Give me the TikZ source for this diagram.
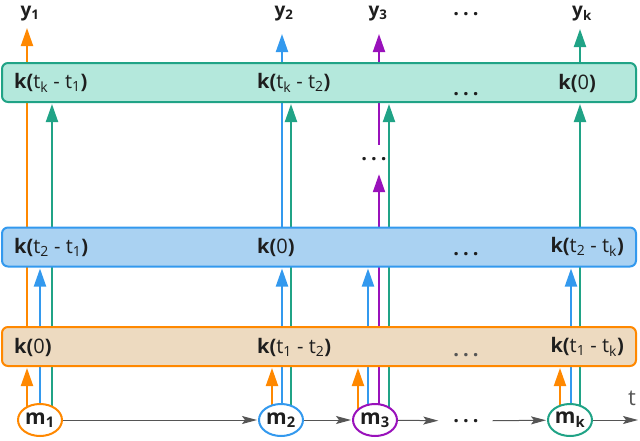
\documentclass[tikz,border=0pt]{standalone}
\usepackage{fontspec}
\setmainfont{Open Sans}
\usetikzlibrary{arrows.meta,shapes.geometric,backgrounds,calc}
\definecolor{tealc}{RGB}{32,163,134}
\definecolor{tealfill}{RGB}{180,232,220}
\definecolor{bluec}{RGB}{51,153,238}
\definecolor{bluefill}{RGB}{170,210,242}
\definecolor{orangec}{RGB}{255,136,0}
\definecolor{orangefill}{RGB}{237,218,192}
\definecolor{purplec}{RGB}{153,17,187}
\definecolor{axisgray}{RGB}{85,85,85}
\definecolor{txt}{RGB}{30,30,30}
\newcommand{\mydots}{\textbf{.\hspace{4pt}.\hspace{4pt}.}}
\newcommand{\kk}[2]{\textbf{k(}t\textsubscript{#1} - t\textsubscript{#2}\textbf{)}}
\begin{document}
\begin{tikzpicture}[x=1pt,y=-1pt,
  kbox/.style={draw, line width=2pt, rounded corners=6pt, minimum width=634pt, minimum height=39pt, inner sep=0pt},
  lbl/.style={font=\fontsize{20}{22}\selectfont, inner sep=0pt, text=txt},
  ylbl/.style={font=\fontsize{19}{21}\selectfont\bfseries, inner sep=0pt, text=txt, anchor=base},
  mnode/.style={ellipse, draw, line width=2pt, fill=white, minimum width=44pt, minimum height=32pt, inner sep=0pt, font=\fontsize{21}{22}\selectfont\bfseries, text=txt},
  arr/.style={line width=2pt, -{Triangle[length=18pt,width=12pt]}, shorten >=1pt},
  tarr/.style={line width=1pt, axisgray, -{Stealth[length=15pt,width=8pt,inset=3pt]}, shorten >=1pt},
  dotsn/.style={font=\fontsize{20}{22}\selectfont, inner sep=0pt, text=txt}
]
\useasboundingbox (0,0) rectangle (640,440);
% boxes
\node[kbox, draw=tealc, fill=tealfill] (K3) at (319,82.5) {};
\node[kbox, draw=bluec, fill=bluefill] (K2) at (319,247) {};
\node[kbox, draw=orangec, fill=orangefill] (K1) at (319,346.5) {};
% box labels
\node[lbl, anchor=west] (l31) at (14,83) {\kk{k}{1}};
\node[lbl, anchor=west] (l32) at (257,83) {\kk{k}{2}};
\node[dotsn] (l33) at (466,94.5) {\mydots};
\node[lbl, anchor=east] (l34) at (596,83) {\textbf{k(}0\textbf{)}};
\node[lbl, anchor=west] (l21) at (14,247) {\kk{2}{1}};
\node[lbl, anchor=west] (l22) at (257,247) {\textbf{k(}0\textbf{)}};
\node[dotsn] (l23) at (466,254.5) {\mydots};
\node[lbl, anchor=east] (l24) at (624,247) {\kk{2}{k}};
\node[lbl, anchor=west] (l11) at (14,347) {\textbf{k(}0\textbf{)}};
\node[lbl, anchor=west] (l12) at (257,347) {\kk{1}{2}};
\node[dotsn, text=axisgray] (l13) at (466,355.5) {\mydots};
\node[lbl, anchor=east] (l14) at (624,347) {\kk{1}{k}};
% outputs
\node[ylbl] (y1) at (30,16) {y\textsubscript{1}};
\node[ylbl] (y2) at (284,16) {y\textsubscript{2}};
\node[ylbl] (y3) at (378,16) {y\textsubscript{3}};
\node[dotsn] (ydots) at (466,14.5) {\mydots};
\node[ylbl] (yk) at (582,16) {y\textsubscript{k}};
% inputs
\node[mnode, draw=orangec] (m1) at (40,420) {m\textsubscript{1}};
\node[mnode, draw=bluec] (m2) at (281,420) {m\textsubscript{2}};
\node[mnode, draw=purplec] (m3) at (375,420) {m\textsubscript{3}};
\node[dotsn, minimum width=53pt] (tdots) at (466,421) {\mydots};
\node[mnode, draw=tealc] (mk) at (570,420) {m\textsubscript{k}};
\coordinate (tend) at (639,420);
\node[font=\fontsize{22}{24}\selectfont, text=axisgray, inner sep=0pt] (tl) at (632,398) {t};
\node[dotsn, minimum height=28pt] (dots3) at (374,159) {\mydots};
% column coordinates
\coordinate (c1o) at (27,420);
\coordinate (c1b) at (40,420);
\coordinate (c1t) at (52,420);
\coordinate (c2o) at (272,420);
\coordinate (c2b) at (282,420);
\coordinate (c2t) at (291,420);
\coordinate (c3o) at (358,420);
\coordinate (c3b) at (368,420);
\coordinate (c3p) at (379,420);
\coordinate (c3t) at (389,420);
\coordinate (cko) at (560,420);
\coordinate (ckb) at (571,420);
\coordinate (ckt) at (580,420);
\begin{pgfonlayer}{background}
% column 1
\draw[arr, orangec] (c1o) -- (c1o |- K1.south);
\draw[arr, orangec] (c1o |- K1.center) -- ($(c1o |- y1.base)+(0,11)$);
\draw[arr, bluec] (c1b) -- (c1b |- K2.south);
\draw[arr, tealc] (c1t) -- (c1t |- K3.south);
% column 2
\draw[arr, orangec] (c2o) -- (c2o |- K1.south);
\draw[arr, bluec] (c2b) -- (c2b |- K2.south);
\draw[arr, bluec] (c2b |- K2.center) -- ($(c2b |- y2.base)+(0,17)$);
\draw[arr, tealc] (c2t) -- (c2t |- K3.south);
% column 3
\draw[arr, orangec] (c3o) -- (c3o |- K1.south);
\draw[arr, bluec] (c3b) -- (c3b |- K2.south);
\draw[arr, purplec] (c3p) -- (c3p |- dots3.south);
\draw[arr, purplec] (c3p |- dots3.north) -- ($(c3p |- y3.base)+(0,17)$);
\draw[arr, tealc] (c3t) -- (c3t |- K3.south);
% column k
\draw[arr, orangec] (cko) -- (cko |- K1.south);
\draw[arr, bluec] (ckb) -- (ckb |- K2.south);
\draw[arr, tealc] (ckt) -- (ckt |- K3.south);
\draw[arr, tealc] (ckt |- K3.center) -- ($(ckt |- yk.base)+(0,12)$);
\end{pgfonlayer}
% time axis
\draw[tarr] (m1) -- (m2);
\draw[tarr] (m2) -- (m3);
\draw[tarr] (m3) -- (tdots);
\draw[tarr] (tdots) -- (mk);
\draw[tarr] (mk) -- (tend);
\end{tikzpicture}
\end{document}
